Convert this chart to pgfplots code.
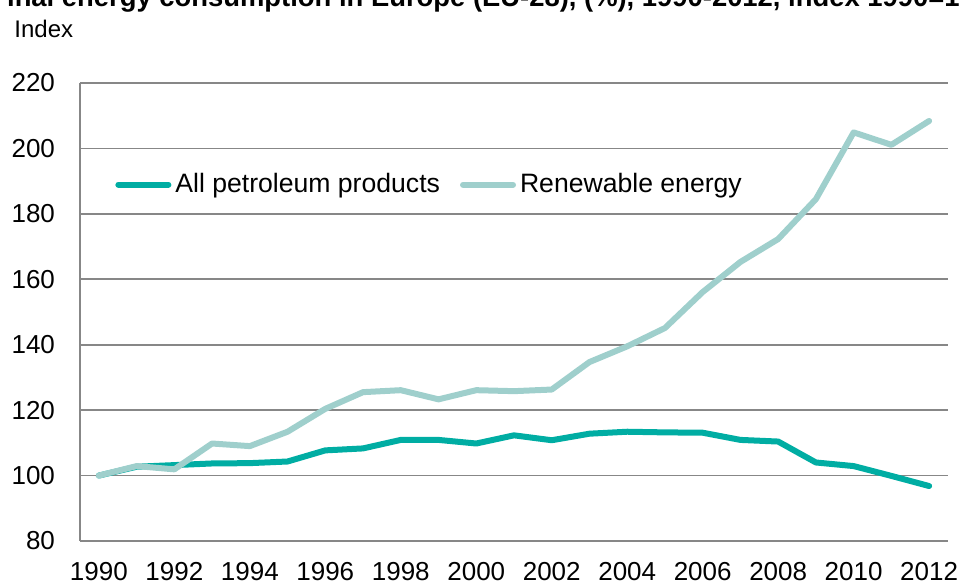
\documentclass[border=0pt]{standalone}
\usepackage{fontspec}
\setmainfont{Liberation Sans}
\usepackage{pgfplots}
\pgfplotsset{compat=1.18}
\definecolor{petrol}{HTML}{00ADA3}
\definecolor{renew}{HTML}{9FCFCC}
\definecolor{gridgray}{HTML}{878787}

\begin{document}
\begin{tikzpicture}
\begin{axis}[
    width=434pt, height=229pt, scale only axis,
    xmin=1989.5, xmax=2012.5, ymin=80, ymax=220,
    xtick={1990,1992,...,2012}, ytick={80,100,...,220},
    /pgf/number format/1000 sep=,
    /pgf/number format/assume math mode=true,
    axis lines=left, axis line style={gridgray, line width=0.8pt, -},
    major tick length=0pt,
    ymajorgrids, grid style={gridgray, line width=0.8pt},
    tick label style={font=\fontsize{13}{16}\selectfont},
    xticklabel style={yshift=-7pt},
    yticklabel style={xshift=-9pt},
    legend columns=2,
    legend style={draw=none, fill=none, inner sep=0pt,
        at={(rel axis cs:0.0403,0.778)}, anchor=west,
        font=\fontsize{13.3}{16}\selectfont,
        /tikz/every even column/.append style={column sep=8pt}},
    legend image code/.code={\draw[#1, line width=3pt] (0pt,0pt) -- (25pt,0pt);},
    every axis plot/.append style={line width=3pt, line join=round, line cap=round},
]
\addplot[color=petrol] coordinates {
  (1990,100.0)(1991,102.7)(1992,103.2)(1993,103.7)(1994,103.8)(1995,104.3)
  (1996,107.7)(1997,108.3)(1998,110.9)(1999,110.9)(2000,109.8)(2001,112.3)
  (2002,110.8)(2003,112.8)(2004,113.4)(2005,113.2)(2006,113.1)(2007,110.9)
  (2008,110.4)(2009,104.0)(2010,102.9)(2011,99.9)(2012,96.8)};
\addplot[color=renew] coordinates {
  (1990,100.0)(1991,102.9)(1992,101.9)(1993,109.8)(1994,109.0)(1995,113.4)
  (1996,120.4)(1997,125.5)(1998,126.1)(1999,123.3)(2000,126.1)(2001,125.8)
  (2002,126.3)(2003,134.7)(2004,139.5)(2005,145.1)(2006,156.1)(2007,165.3)
  (2008,172.3)(2009,184.5)(2010,204.9)(2011,201.1)(2012,208.4)};
\legend{All petroleum products, Renewable energy}
\end{axis}
\node[anchor=base west, inner sep=0pt, font=\fontsize{12}{14}\selectfont] at (-33pt,251.5pt) {Index};
\node[anchor=base west, inner sep=0pt, font=\bfseries\fontsize{13.7}{16.5}\selectfont] at (-45pt,267pt)
  {Final energy consumption in Europe (EU-28), (\%), 1990-2012, index 1990=100};
\pgfresetboundingbox
\useasboundingbox (-40pt,-21.5pt) rectangle (440pt,270.5pt);
\end{tikzpicture}
\end{document}
